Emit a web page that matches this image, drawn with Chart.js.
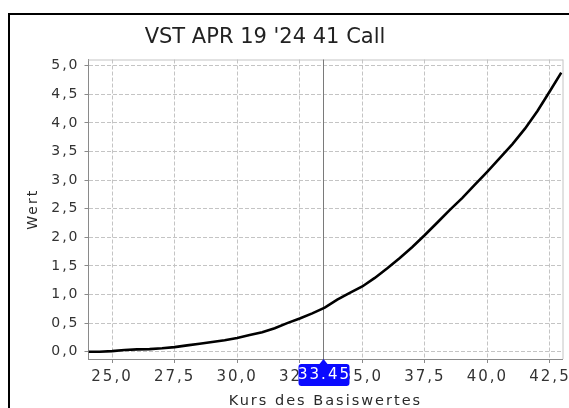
<!DOCTYPE html>
<html>
<head>
<meta charset="utf-8">
<script src="https://cdn.jsdelivr.net/npm/chart.js@4"></script>
<style>
  html, body { margin: 0; padding: 0; background: #ffffff; }
  #wrap { width: 569px; height: 408px; position: relative; }
</style>
</head>
<body>
<div id="wrap"><canvas id="c" width="569" height="408"></canvas></div>
<script>
// ---- data ----
const chartTitle = "VST APR 19 '24 41 Call";
const xAxisTitle = "Kurs des Basiswertes";
const yAxisTitle = "Wert";
const underlyingPrices = [24.06, 24.5, 25.0, 25.5, 26.0, 26.5, 27.0, 27.5, 28.0, 28.5, 29.0, 29.5, 30.0, 30.5, 31.0, 31.5, 32.0, 32.5, 33.0, 33.5, 34.0, 34.5, 35.0, 35.5, 36.0, 36.5, 37.0, 37.5, 38.0, 38.5, 39.0, 39.5, 40.0, 40.5, 41.0, 41.5, 42.0, 42.5, 42.95];
const optionValues   = [0.00, 0.00, 0.01, 0.03, 0.04, 0.045, 0.06, 0.08, 0.11, 0.14, 0.17, 0.20, 0.24, 0.29, 0.34, 0.41, 0.50, 0.58, 0.67, 0.77, 0.91, 1.03, 1.14, 1.29, 1.46, 1.64, 1.83, 2.04, 2.26, 2.48, 2.69, 2.92, 3.15, 3.39, 3.63, 3.90, 4.21, 4.56, 4.88];
const xTickValues = [25.0, 27.5, 30.0, 32.5, 35.0, 37.5, 40.0, 42.5];
const yTickValues = [0.0, 0.5, 1.0, 1.5, 2.0, 2.5, 3.0, 3.5, 4.0, 4.5, 5.0];
const currentPrice = 33.45;
const currentPriceLabel = "33.45";

const fmt = v => v.toFixed(1).replace('.', ',');

const spacingPlugin = {
  id: 'spacing',
  beforeLayout(chart) { chart.ctx.letterSpacing = '2px'; },
  beforeDraw(chart) {
    const ctx = chart.ctx;
    ctx.letterSpacing = '2px';
    ctx.save();
    ctx.fillStyle = '#ffffff';
    ctx.fillRect(0, 0, chart.width, chart.height);
    ctx.strokeStyle = '#000000';
    ctx.lineWidth = 2;
    ctx.strokeRect(9, 14, 800, 800);
    ctx.letterSpacing = '0px';
    ctx.fillStyle = '#222222';
    ctx.font = '21px "DejaVu Sans"';
    ctx.textAlign = 'center';
    ctx.textBaseline = 'middle';
    ctx.fillText(chartTitle, 265, 38);
    ctx.restore();
  },
  beforeDatasetsDraw(chart) {
    const ctx = chart.ctx, a = chart.chartArea;
    ctx.save();
    ctx.strokeStyle = '#c4c4c4';
    ctx.lineWidth = 1;
    ctx.beginPath();
    ctx.moveTo(a.left, a.top + 0.5); ctx.lineTo(a.right + 0.5, a.top + 0.5);
    ctx.moveTo(a.right + 0.5, a.top); ctx.lineTo(a.right + 0.5, a.bottom);
    ctx.stroke();
    const px = Math.round(chart.scales.x.getPixelForValue(currentPrice)) + 0.5;
    ctx.strokeStyle = '#7a7a7a';
    ctx.beginPath();
    ctx.moveTo(px, a.top); ctx.lineTo(px, a.bottom + 2);
    ctx.stroke();
    ctx.restore();
  },
  afterDraw(chart) {
    const ctx = chart.ctx;
    const px = chart.scales.x.getPixelForValue(currentPrice);
    ctx.save();
    ctx.fillStyle = '#0a0aff';
    const x0 = px - 25, x1 = px + 26, y0 = 364, y1 = 386, r = 3;
    ctx.beginPath();
    ctx.moveTo(x0 + r, y0);
    ctx.lineTo(px - 4, y0); ctx.lineTo(px, y0 - 5); ctx.lineTo(px + 4, y0);
    ctx.lineTo(x1 - r, y0); ctx.quadraticCurveTo(x1, y0, x1, y0 + r);
    ctx.lineTo(x1, y1 - r); ctx.quadraticCurveTo(x1, y1, x1 - r, y1);
    ctx.lineTo(x0 + r, y1); ctx.quadraticCurveTo(x0, y1, x0, y1 - r);
    ctx.lineTo(x0, y0 + r); ctx.quadraticCurveTo(x0, y0, x0 + r, y0);
    ctx.fill();
    ctx.letterSpacing = '2px';
    ctx.fillStyle = '#ffffff';
    ctx.font = '15px "DejaVu Sans"';
    ctx.textAlign = 'center';
    ctx.textBaseline = 'middle';
    ctx.fillText(currentPriceLabel, px + 1, 375.5);
    ctx.restore();
  }
};

const gridOpts = { color: '#c4c4c4', tickLength: 4, tickColor: '#8a8a8a', tickBorderDash: [] };
const borderOpts = { display: true, color: '#8a8a8a', width: 1, dash: [4, 2] };

new Chart(document.getElementById('c'), {
  type: 'line',
  data: {
    datasets: [{
      data: underlyingPrices.map((x, i) => ({ x: x, y: optionValues[i] })),
      borderColor: '#000000',
      borderWidth: 2.6,
      pointRadius: 0,
      tension: 0,
      fill: false
    }]
  },
  options: {
    responsive: false,
    animation: false,
    devicePixelRatio: 1,
    layout: { padding: { left: 0, right: 6.5, top: 59.5, bottom: 0 } },
    plugins: { legend: { display: false }, tooltip: { enabled: false }, title: { display: false } },
    scales: {
      x: {
        type: 'linear',
        min: 24.06,
        max: 43.0,
        afterBuildTicks: s => { s.ticks = xTickValues.map(v => ({ value: v })); },
        afterFit: s => { s.height = 49; s.paddingLeft = 0; s.paddingRight = 0; },
        ticks: { callback: v => fmt(v), color: '#333333', font: { family: 'DejaVu Sans', size: 15 }, padding: 5, maxRotation: 0, autoSkip: false },
        grid: gridOpts,
        border: borderOpts,
        title: { display: true, text: xAxisTitle, color: '#2a2a2a', font: { family: 'DejaVu Sans', size: 14.5, lineHeight: 1 }, padding: { top: 0, bottom: 0 } }
      },
      y: {
        type: 'linear',
        min: -0.128,
        max: 5.11,
        afterBuildTicks: s => { s.ticks = yTickValues.map(v => ({ value: v })); },
        afterFit: s => { s.width = 88.5; s.paddingTop = 0; s.paddingBottom = 0; },
        ticks: { callback: v => fmt(v), color: '#333333', font: { family: 'DejaVu Sans', size: 14 }, padding: 5 },
        grid: gridOpts,
        border: borderOpts,
        title: { display: true, text: yAxisTitle, color: '#2a2a2a', font: { family: 'DejaVu Sans', size: 14, lineHeight: 1.2 }, padding: { top: 24.6, bottom: 0 } }
      }
    }
  },
  plugins: [spacingPlugin]
});
</script>
</body>
</html>
